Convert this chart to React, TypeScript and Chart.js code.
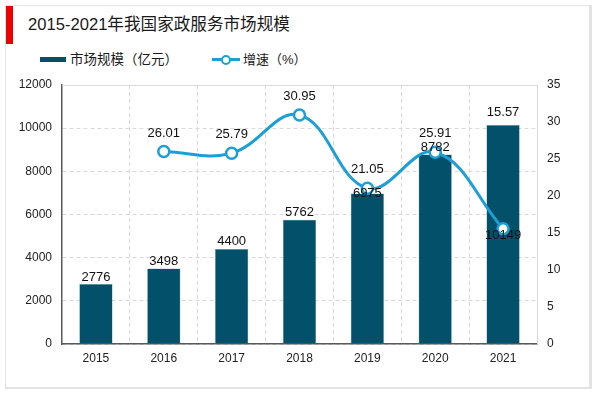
import React, { useEffect, useRef } from "react";
import { Chart, registerables } from "chart.js";

Chart.register(...registerables);

const years = ["2015", "2016", "2017", "2018", "2019", "2020", "2021"];
const marketSize = [2776, 3498, 4400, 5762, 6975, 8782, 10149];
const growth = [null, 26.01, 25.79, 30.95, 21.05, 25.91, 15.57];
const leftTicks = { min: 0, max: 12000, step: 2000 };
const rightTicks = { min: 0, max: 35, step: 5 };

const BAR_COLOR = "#02506A";
const LINE_COLOR = "#1C9FD6";
const FONT = "'Liberation Sans', Arial, 'Noto Sans CJK SC', sans-serif";

// label placement quirks of the reference (anchor + vertical offset)
const barLabelPlace: { anchor: "bar" | "point"; dy: number }[] = [
  { anchor: "bar", dy: -7 },
  { anchor: "bar", dy: -7 },
  { anchor: "bar", dy: -8 },
  { anchor: "bar", dy: -7 },
  { anchor: "bar", dy: 0 },
  { anchor: "bar", dy: -7 },
  { anchor: "point", dy: 7 },
];
const lineLabelPlace: { anchor: "bar" | "point"; dy: number }[] = [
  { anchor: "point", dy: -19 },
  { anchor: "point", dy: -18 },
  { anchor: "point", dy: -19 },
  { anchor: "point", dy: -19 },
  { anchor: "point", dy: -19 },
  { anchor: "point", dy: -19 },
  { anchor: "bar", dy: -13 },
];

const frameAndLabels = {
  id: "frameAndLabels",
  beforeDatasetsDraw(chart: any) {
    const { ctx, chartArea } = chart;
    ctx.save();
    ctx.strokeStyle = "#d9d9d9";
    ctx.lineWidth = 1;
    ctx.beginPath();
    ctx.moveTo(chartArea.left, chartArea.top + 0.5);
    ctx.lineTo(chartArea.right + 0.5, chartArea.top + 0.5);
    ctx.lineTo(chartArea.right + 0.5, chartArea.bottom);
    ctx.stroke();
    ctx.restore();
  },
  afterDatasetsDraw(chart: any) {
    const { ctx } = chart;
    const bars = chart.getDatasetMeta(0).data;
    const pts = chart.getDatasetMeta(1).data;
    ctx.save();
    ctx.font = "13px " + FONT;
    ctx.fillStyle = "#111";
    ctx.textAlign = "center";
    ctx.textBaseline = "middle";
    years.forEach((_, i) => {
      const b = bars[i];
      const p = pts[i];
      const bp = barLabelPlace[i];
      const by = bp.anchor === "bar" ? b.y : p.y;
      ctx.fillText(String(marketSize[i]), b.x, by + bp.dy);
      if (growth[i] !== null) {
        const lp = lineLabelPlace[i];
        const ly = lp.anchor === "bar" ? b.y : p.y;
        ctx.fillText((growth[i] as number).toFixed(2), p.x, ly + lp.dy);
      }
    });
    ctx.restore();
  },
};

export default function App() {
  const ref = useRef<HTMLCanvasElement>(null);
  useEffect(() => {
    const chart = new Chart(ref.current!, {
      type: "bar",
      data: {
        labels: years,
        datasets: [
          {
            type: "bar",
            label: "市场规模（亿元）",
            data: marketSize,
            backgroundColor: BAR_COLOR,
            borderColor: "#6f9fb0",
            borderWidth: 0.5,
            categoryPercentage: 1,
            barPercentage: 0.49,
            yAxisID: "y",
            order: 2,
          },
          {
            type: "line",
            label: "增速（%）",
            data: growth,
            borderColor: LINE_COLOR,
            borderWidth: 3,
            tension: 0.4,
            pointRadius: 5.5,
            pointBorderWidth: 2.5,
            pointBackgroundColor: "#ffffff",
            pointBorderColor: LINE_COLOR,
            yAxisID: "y1",
            order: 1,
          },
        ] as any,
      },
      plugins: [frameAndLabels],
      options: {
        responsive: false,
        animation: false,
        devicePixelRatio: 1,
        layout: { padding: { top: 85, left: 0, right: 0, bottom: 0 } },
        plugins: {
          legend: { display: false },
          title: { display: false },
          tooltip: { enabled: false },
        },
        scales: {
          x: {
            grid: {
              offset: true,
              color: "#d9d9d9",
              drawTicks: false,
            },
            border: { display: true, color: "#595959", width: 1.5, dash: [4, 3] },
            ticks: {
              padding: 7,
              color: "#222",
              font: { size: 12, family: FONT },
            },
            afterFit: (s: any) => {
              s.height = 49;
            },
          },
          y: {
            position: "left",
            min: leftTicks.min,
            max: leftTicks.max,
            ticks: {
              stepSize: leftTicks.step,
              padding: 10,
              color: "#222",
              font: { size: 12, family: FONT },
              callback: (v: any) => String(v),
            },
            grid: { color: "#d9d9d9", drawTicks: false },
            border: { display: true, color: "#595959", width: 1.5, dash: [4, 3] },
            afterFit: (s: any) => {
              s.width = 62;
            },
          },
          y1: {
            position: "right",
            min: rightTicks.min,
            max: rightTicks.max,
            ticks: {
              stepSize: rightTicks.step,
              padding: 10,
              color: "#222",
              font: { size: 12, family: FONT },
              callback: (v: any) => String(v),
            },
            grid: { drawOnChartArea: false, drawTicks: false },
            border: { display: false },
            afterFit: (s: any) => {
              s.width = 63;
            },
          },
        },
      } as any,
    });
    return () => chart.destroy();
  }, []);

  return (
    <div
      style={{
        position: "fixed",
        left: 0,
        top: 0,
        width: 600,
        height: 393,
        background: "#fff",
        fontFamily: FONT,
      }}
    >
      <div
        style={{
          position: "absolute",
          left: 5,
          top: 5,
          width: 583,
          height: 381,
          border: "1px solid #e3e3e3",
          borderRightWidth: 3,
          borderBottomWidth: 2,
        }}
      />
      <div
        style={{
          position: "absolute",
          left: 6,
          top: 6,
          width: 7,
          height: 38,
          background: "#ee0000",
        }}
      />
      <div
        style={{
          position: "absolute",
          left: 28,
          top: 14,
          fontSize: 16.6,
          lineHeight: "22px",
          color: "#1a1a1a",
          whiteSpace: "nowrap",
        }}
      >
        2015-2021年我国家政服务市场规模
      </div>
      <div
        style={{
          position: "absolute",
          left: 40,
          top: 57,
          width: 26,
          height: 5,
          background: BAR_COLOR,
        }}
      />
      <div
        style={{
          position: "absolute",
          left: 70,
          top: 51,
          fontSize: 13.5,
          lineHeight: "18px",
          color: "#1a1a1a",
          whiteSpace: "nowrap",
        }}
      >
        市场规模（亿元）
      </div>
      <div
        style={{
          position: "absolute",
          left: 212,
          top: 58,
          width: 28,
          height: 3,
          background: LINE_COLOR,
        }}
      />
      <div
        style={{
          position: "absolute",
          left: 221,
          top: 55,
          width: 6,
          height: 6,
          borderRadius: "50%",
          border: "2px solid " + LINE_COLOR,
          background: "#fff",
        }}
      />
      <div
        style={{
          position: "absolute",
          left: 243,
          top: 51,
          fontSize: 13,
          lineHeight: "18px",
          color: "#1a1a1a",
          whiteSpace: "nowrap",
        }}
      >
        增速（%）
      </div>
      <canvas
        ref={ref}
        width={600}
        height={393}
        style={{ position: "absolute", left: 0, top: 0, width: 600, height: 393 }}
      />
    </div>
  );
}
